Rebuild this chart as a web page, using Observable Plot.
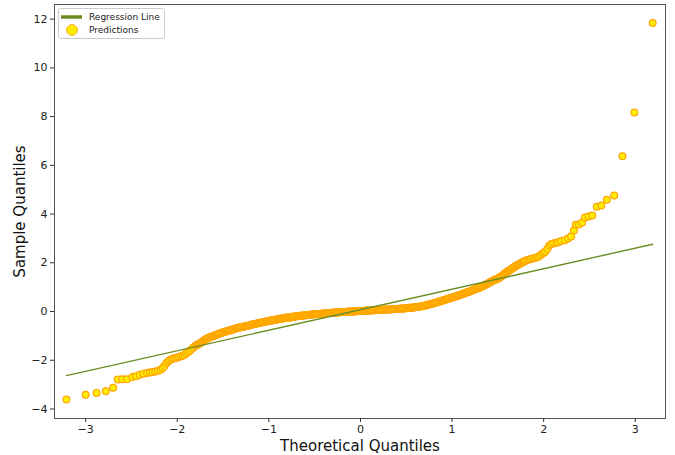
<!DOCTYPE html>
<html><head><meta charset="utf-8">
<script src="https://cdn.jsdelivr.net/npm/d3@7"></script>
<script src="https://cdn.jsdelivr.net/npm/@observablehq/plot@0.6"></script>
<style>body{margin:0;background:#fff;}#chart{width:675px;height:455px;}</style>
</head><body><div id="chart"></div>
<script>
// Theoretical quantiles (x) and sample quantiles (y)
const theoretical = [
// low tail
-3.21,-3.00,-2.88,-2.78,-2.70,-2.65,-2.60,-2.55,-2.49,-2.45,-2.41,-2.37,-2.33,-2.30,-2.27,-2.24,-2.21,-2.18,-2.16,-2.14,-2.12,-2.10,-2.08,-2.06,-2.04,-2.02,
-2.00,-1.98,-1.96,-1.94,-1.92,-1.90,-1.88,-1.86,-1.84,-1.82,
// dense body
-1.80,-1.79,-1.78,-1.77,-1.76,-1.75,-1.74,-1.73,-1.72,-1.71,
-1.70,-1.69,-1.68,-1.67,-1.66,-1.65,-1.64,-1.63,-1.62,-1.61,
-1.60,-1.59,-1.58,-1.57,-1.56,-1.55,-1.54,-1.53,-1.52,-1.51,
-1.50,-1.49,-1.48,-1.47,-1.46,-1.45,-1.44,-1.43,-1.42,-1.41,
-1.40,-1.39,-1.38,-1.37,-1.36,-1.35,-1.34,-1.33,-1.32,-1.31,
-1.30,-1.29,-1.28,-1.27,-1.26,-1.25,-1.24,-1.23,-1.22,-1.21,
-1.20,-1.19,-1.18,-1.17,-1.16,-1.15,-1.14,-1.13,-1.12,-1.11,
-1.10,-1.09,-1.08,-1.07,-1.06,-1.05,-1.04,-1.03,-1.02,-1.01,
-1.00,-0.99,-0.98,-0.97,-0.96,-0.95,-0.94,-0.93,-0.92,-0.91,
-0.90,-0.89,-0.88,-0.87,-0.86,-0.85,-0.84,-0.83,-0.82,-0.81,
-0.80,-0.79,-0.78,-0.77,-0.76,-0.75,-0.74,-0.73,-0.72,-0.71,
-0.70,-0.69,-0.68,-0.67,-0.66,-0.65,-0.64,-0.63,-0.62,-0.61,
-0.60,-0.59,-0.58,-0.57,-0.56,-0.55,-0.54,-0.53,-0.52,-0.51,
-0.50,-0.49,-0.48,-0.47,-0.46,-0.45,-0.44,-0.43,-0.42,-0.41,
-0.40,-0.39,-0.38,-0.37,-0.36,-0.35,-0.34,-0.33,-0.32,-0.31,
-0.30,-0.29,-0.28,-0.27,-0.26,-0.25,-0.24,-0.23,-0.22,-0.21,
-0.20,-0.19,-0.18,-0.17,-0.16,-0.15,-0.14,-0.13,-0.12,-0.11,
-0.10,-0.09,-0.08,-0.07,-0.06,-0.05,-0.04,-0.03,-0.02,-0.01,
0.00,0.01,0.02,0.03,0.04,0.05,0.06,0.07,0.08,0.09,
0.10,0.11,0.12,0.13,0.14,0.15,0.16,0.17,0.18,0.19,
0.20,0.21,0.22,0.23,0.24,0.25,0.26,0.27,0.28,0.29,
0.30,0.31,0.32,0.33,0.34,0.35,0.36,0.37,0.38,0.39,
0.40,0.41,0.42,0.43,0.44,0.45,0.46,0.47,0.48,0.49,
0.50,0.51,0.52,0.53,0.54,0.55,0.56,0.57,0.58,0.59,
0.60,0.61,0.62,0.63,0.64,0.65,0.66,0.67,0.68,0.69,
0.70,0.71,0.72,0.73,0.74,0.75,0.76,0.77,0.78,0.79,
0.80,0.81,0.82,0.83,0.84,0.85,0.86,0.87,0.88,0.89,
0.90,0.91,0.92,0.93,0.94,0.95,0.96,0.97,0.98,0.99,
1.00,1.01,1.02,1.03,1.04,1.05,1.06,1.07,1.08,1.09,
1.10,1.11,1.12,1.13,1.14,1.15,1.16,1.17,1.18,1.19,
1.20,1.21,1.22,1.23,1.24,1.25,1.26,1.27,1.28,1.29,
1.30,1.31,1.32,1.33,1.34,1.35,1.36,1.37,1.38,1.39,
1.40,1.41,1.42,1.43,1.44,1.45,1.46,1.47,1.48,1.49,
1.50,1.51,1.52,1.53,1.54,1.55,1.56,1.57,1.58,1.59,
1.60,1.61,1.62,1.63,1.64,1.65,1.66,1.67,1.68,1.69,
1.70,1.71,1.72,1.73,1.74,1.75,1.76,1.77,1.78,1.79,
1.80,
// high tail
1.82,1.84,1.86,1.88,1.90,1.92,1.94,1.96,1.98,2.00,
2.02,2.04,2.06,2.08,2.11,2.14,2.16,2.19,2.23,2.265,2.30,2.33,2.35,2.385,2.42,2.45,2.49,2.53,2.58,2.63,2.69,2.77,2.86,2.99,3.19
];
const sample = [
// low tail
-3.61,-3.42,-3.34,-3.27,-3.13,-2.79,-2.78,-2.78,-2.69,-2.66,-2.59,-2.55,-2.52,-2.50,-2.48,-2.46,-2.43,-2.39,-2.32,-2.24,-2.12,-2.05,-1.99,-1.95,-1.93,-1.91,
-1.89,-1.87,-1.84,-1.81,-1.77,-1.71,-1.66,-1.60,-1.53,-1.47,
// dense body
-1.40,-1.38,-1.36,-1.34,-1.32,-1.30,-1.27,-1.25,-1.22,-1.20,
-1.17,-1.15,-1.12,-1.11,-1.09,-1.07,-1.05,-1.04,-1.02,-1.01,
-0.99,-0.98,-0.96,-0.95,-0.93,-0.92,-0.90,-0.89,-0.88,-0.87,
-0.85,-0.84,-0.83,-0.82,-0.81,-0.80,-0.79,-0.78,-0.77,-0.76,
-0.74,-0.73,-0.72,-0.71,-0.70,-0.69,-0.68,-0.67,-0.66,-0.65,
-0.64,-0.63,-0.62,-0.61,-0.60,-0.60,-0.59,-0.58,-0.57,-0.56,
-0.55,-0.54,-0.53,-0.52,-0.51,-0.51,-0.50,-0.49,-0.48,-0.47,
-0.46,-0.46,-0.45,-0.44,-0.43,-0.43,-0.42,-0.41,-0.40,-0.40,
-0.39,-0.38,-0.37,-0.37,-0.36,-0.36,-0.35,-0.34,-0.33,-0.33,
-0.32,-0.31,-0.30,-0.30,-0.29,-0.29,-0.28,-0.27,-0.26,-0.26,
-0.25,-0.25,-0.24,-0.24,-0.23,-0.22,-0.21,-0.21,-0.20,-0.20,
-0.19,-0.19,-0.18,-0.18,-0.17,-0.17,-0.17,-0.16,-0.16,-0.15,
-0.15,-0.15,-0.14,-0.14,-0.13,-0.13,-0.13,-0.12,-0.12,-0.11,
-0.11,-0.11,-0.10,-0.10,-0.10,-0.10,-0.09,-0.09,-0.09,-0.08,
-0.08,-0.08,-0.07,-0.07,-0.07,-0.06,-0.06,-0.06,-0.05,-0.05,
-0.05,-0.05,-0.04,-0.04,-0.04,-0.04,-0.03,-0.03,-0.03,-0.03,
-0.02,-0.02,-0.02,-0.02,-0.01,-0.01,-0.01,-0.01,0.00,0.00,
0.00,0.00,0.00,0.00,0.01,0.01,0.01,0.01,0.02,0.02,
0.02,0.02,0.02,0.03,0.03,0.03,0.03,0.04,0.04,0.04,
0.04,0.04,0.04,0.05,0.05,0.05,0.05,0.06,0.06,0.06,
0.06,0.06,0.06,0.07,0.07,0.07,0.07,0.08,0.08,0.08,
0.08,0.08,0.08,0.09,0.09,0.09,0.09,0.10,0.10,0.10,
0.10,0.11,0.11,0.11,0.11,0.12,0.12,0.12,0.12,0.13,
0.13,0.14,0.14,0.15,0.15,0.16,0.16,0.17,0.17,0.18,
0.18,0.19,0.19,0.20,0.20,0.21,0.21,0.22,0.23,0.24,
0.24,0.25,0.26,0.27,0.28,0.29,0.30,0.31,0.32,0.33,
0.34,0.35,0.36,0.37,0.38,0.39,0.40,0.42,0.43,0.44,
0.45,0.46,0.47,0.49,0.50,0.51,0.52,0.54,0.55,0.56,
0.57,0.59,0.60,0.61,0.62,0.64,0.65,0.66,0.67,0.69,
0.70,0.71,0.72,0.74,0.75,0.77,0.78,0.79,0.80,0.82,
0.83,0.85,0.86,0.88,0.89,0.91,0.92,0.94,0.95,0.97,
0.98,1.00,1.02,1.04,1.05,1.07,1.09,1.11,1.13,1.15,
1.17,1.19,1.21,1.23,1.25,1.27,1.28,1.30,1.32,1.34,
1.36,1.38,1.40,1.43,1.45,1.48,1.50,1.54,1.58,1.60,
1.62,1.65,1.67,1.70,1.72,1.75,1.78,1.81,1.83,1.86,
1.88,1.90,1.92,1.94,1.96,1.98,2.00,2.02,2.04,2.06,
2.08,
// high tail
2.11,2.14,2.16,2.18,2.20,2.22,2.25,2.30,2.36,2.41,
2.46,2.57,2.70,2.76,2.80,2.82,2.84,2.89,2.93,3.00,3.08,3.33,3.56,3.57,3.65,3.86,3.90,3.94,4.30,4.35,4.59,4.76,6.37,8.17,11.84
];
// Regression line end points
const lineX = [-3.21, 3.19];
const lineY = [-2.63, 2.76];
// Tick values
const xTicks = [-3, -2, -1, 0, 1, 2, 3];
const yTicks = [-4, -2, 0, 2, 4, 6, 8, 10, 12];

const n = Math.min(theoretical.length, sample.length);
const points = theoretical.slice(0, n).map((t, i) => ({t, s: sample[i]}));
const reg = lineX.map((t, i) => ({t, s: lineY[i]}));
const fmt = d => d < 0 ? "\u2212" + Math.abs(d) : String(d);

const plot = Plot.plot({
  width: 675, height: 455,
  marginLeft: 54, marginRight: 10, marginTop: 4, marginBottom: 37,
  style: {fontFamily: "DejaVu Sans", fontSize: "11px", color: "#222", background: "#fff"},
  x: {domain: [-3.34, 3.33]},
  y: {domain: [-4.39, 12.6]},
  marks: [
    Plot.dot(points, {x: "t", y: "s", r: 3.4, fill: "#ffee00", stroke: "#ffa500", strokeWidth: 1.2}),
    Plot.line(reg, {x: "t", y: "s", stroke: "#6b8e23", strokeWidth: 1.4}),
    Plot.frame({stroke: "#555", strokeWidth: 1}),
    Plot.axisX({ticks: xTicks, tickFormat: fmt, tickSize: 4, tickPadding: 3, label: null, fontSize: 11, stroke: "#333"}),
    Plot.axisY({ticks: yTicks, tickFormat: fmt, tickSize: 4, tickPadding: 3, label: null, fontSize: 11, stroke: "#333"}),
    Plot.text(["Theoretical Quantiles"], {frameAnchor: "bottom", dy: 28, lineAnchor: "middle", textAnchor: "middle", fontSize: 15, fill: "#111"}),
    Plot.text(["Sample Quantiles"], {frameAnchor: "left", dx: -34, rotate: -90, lineAnchor: "middle", textAnchor: "middle", fontSize: 15, fill: "#111"})
  ]
});
document.getElementById("chart").appendChild(plot);

// Legend
const svg = d3.select(plot);
const g = svg.append("g").attr("font-family", "DejaVu Sans").attr("font-size", 9).attr("text-anchor", "start");
g.append("rect").attr("x", 58.5).attr("y", 8.5).attr("width", 106).attr("height", 30)
  .attr("rx", 2).attr("fill", "#fff").attr("stroke", "#ccc").attr("stroke-width", 1);
g.append("line").attr("x1", 61).attr("x2", 82).attr("y1", 17).attr("y2", 17)
  .attr("stroke", "#6b8e23").attr("stroke-width", 3.5);
g.append("text").attr("x", 89).attr("y", 17).attr("dy", "0.35em").attr("text-anchor", "start").attr("fill", "#222").text("Regression Line");
g.append("circle").attr("cx", 72).attr("cy", 30).attr("r", 5.3)
  .attr("fill", "#ffee00").attr("stroke", "#ffa500").attr("stroke-width", 1);
g.append("text").attr("x", 89).attr("y", 30).attr("dy", "0.35em").attr("text-anchor", "start").attr("fill", "#222").text("Predictions");
</script>
</body></html>
